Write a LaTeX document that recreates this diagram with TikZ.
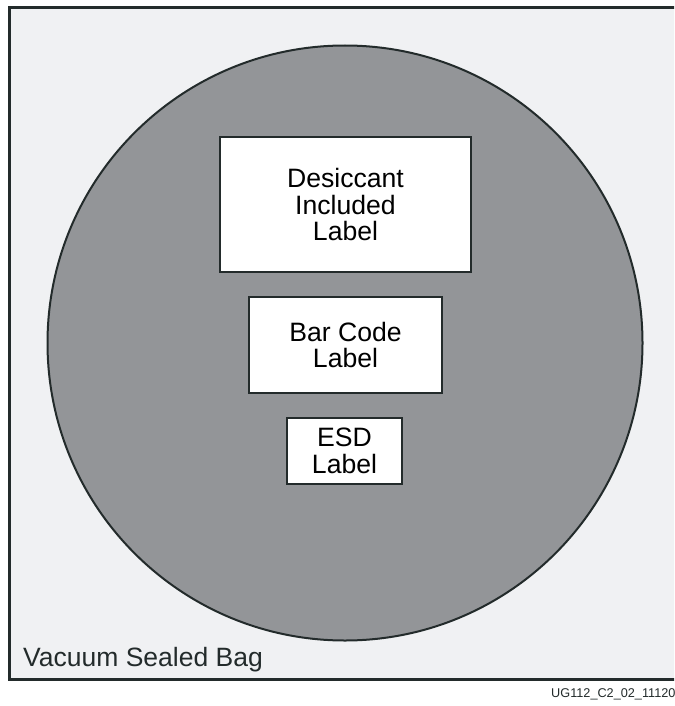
\documentclass[tikz,border=0pt]{standalone}
\usepackage{fontspec}
\setmainfont{Liberation Sans}
\definecolor{bagfill}{HTML}{F0F1F3}
\definecolor{discfill}{HTML}{939598}
\definecolor{inkline}{HTML}{232B2B}
\begin{document}
\begin{tikzpicture}[x=1pt, y=-1pt,
	labelbox/.style={draw=inkline, fill=white, line width=2pt, align=center,
		inner sep=0pt, font=\fontsize{26.6}{26.7}\selectfont}]
	\clip (0,0) rectangle (674,706);
	\fill[white] (0,0) rectangle (674,706);

	\draw[inkline, fill=bagfill, line width=3pt] (9.5,8) rectangle (700,679.5);
	\draw[inkline, fill=discfill, line width=2pt] (345,343) circle (297.5pt);

	\node[labelbox, minimum width=251pt, minimum height=135pt] (desiccant) at (345.5,204.5) {Desiccant\\Included\\Label};
	\node[labelbox, minimum width=193pt, minimum height=96pt] (barcode) at (345.5,345) {Bar Code\\Label};
	\node[labelbox, minimum width=115pt, minimum height=66pt] (esd) at (344.5,451) {ESD\\Label};

	\node[anchor=base west, inner sep=0pt, font=\fontsize{26.5}{28}\selectfont, text=inkline] (bag) at (23,666) {Vacuum Sealed Bag};
	\node[anchor=base west, inner sep=0pt, font=\fontsize{12.7}{14}\selectfont, text=inkline] (figid) at (551,697) {UG112\_C2\_02\_11120};
\end{tikzpicture}
\end{document}
